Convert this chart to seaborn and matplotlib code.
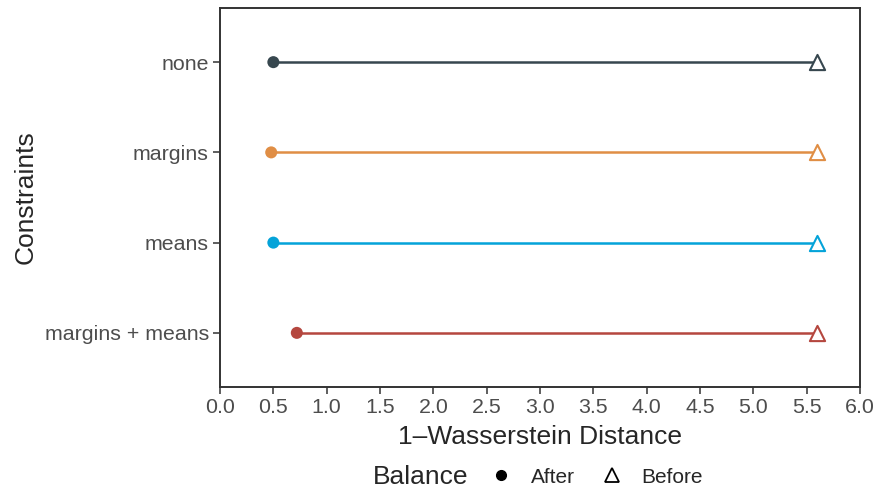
import pandas as pd
import matplotlib.pyplot as plt
from matplotlib.lines import Line2D
import seaborn as sns

# data
constraints = ['none', 'margins', 'means', 'margins + means']
after = [0.50, 0.48, 0.50, 0.72]
before = [5.60, 5.60, 5.60, 5.60]
colors = ['#37474F', '#E08E45', '#04A3D9', '#B5473F']
x_ticks = [0.0, 0.5, 1.0, 1.5, 2.0, 2.5, 3.0, 3.5, 4.0, 4.5, 5.0, 5.5, 6.0]

df = pd.DataFrame({'Constraints': constraints * 2,
                   'Distance': after + before,
                   'Balance': ['After'] * 4 + ['Before'] * 4})

sns.set_style('white')
plt.rcParams['font.family'] = ['Liberation Sans', 'DejaVu Sans']

fig = plt.figure(figsize=(8.78, 4.91), dpi=100)
ax = fig.add_axes([0.2506, 0.2118, 0.7289, 0.7719])

pal = dict(zip(constraints, colors))
ypos = {c: i for i, c in enumerate(constraints)}

# segments
for c, a, b in zip(constraints, after, before):
    ax.plot([a, b], [ypos[c], ypos[c]], color=pal[c], lw=1.8, zorder=1)

sns.scatterplot(data=df[df.Balance == 'After'], x='Distance', y='Constraints',
                hue='Constraints', palette=pal, marker='o', s=75,
                edgecolor='none', legend=False, ax=ax, zorder=3)
bef = df[df.Balance == 'Before']
for c, v in zip(bef.Constraints, bef.Distance):
    ax.scatter(v, ypos[c], marker='^', s=120, facecolor='white',
               edgecolor=pal[c], linewidth=1.5, zorder=3)

ax.set_xlim(0, 6)
ax.set_ylim(3.6, -0.6)
ax.set_yticks(range(len(constraints)))
ax.set_yticklabels(constraints)
ax.set_xticks(x_ticks)
ax.set_xticklabels([f'{t:.1f}' for t in x_ticks])
ax.tick_params(axis='both', labelsize=15.4, labelcolor='#4D4D4D', colors='#333333',
               length=5, width=1.1, direction='out', bottom=True, left=True, pad=3)
for sp in ax.spines.values():
    sp.set_color('#333333')
    sp.set_linewidth(1.4)
ax.set_xlabel('1\u2013Wasserstein Distance', fontsize=19, labelpad=6)
ax.set_ylabel('Constraints', fontsize=19, labelpad=5)

# legend at the bottom: title on the left, keys in a row
fig.text(373 / 878, 0.0285, 'Balance', fontsize=19, va='center', ha='left')
handles = [Line2D([], [], marker='o', ls='none', color='black', markersize=7),
           Line2D([], [], marker='^', ls='none', markerfacecolor='none',
                  markeredgecolor='black', markersize=10, markeredgewidth=1.3)]
fig.legend(handles, ['After', 'Before'], ncol=2, loc='center left',
           bbox_to_anchor=(491 / 878, 0.0285), frameon=False, fontsize=15,
           handletextpad=0.9, columnspacing=1.3, handlelength=1.0,
           borderpad=0, borderaxespad=0)

fig.savefig('out.png', dpi=100)
